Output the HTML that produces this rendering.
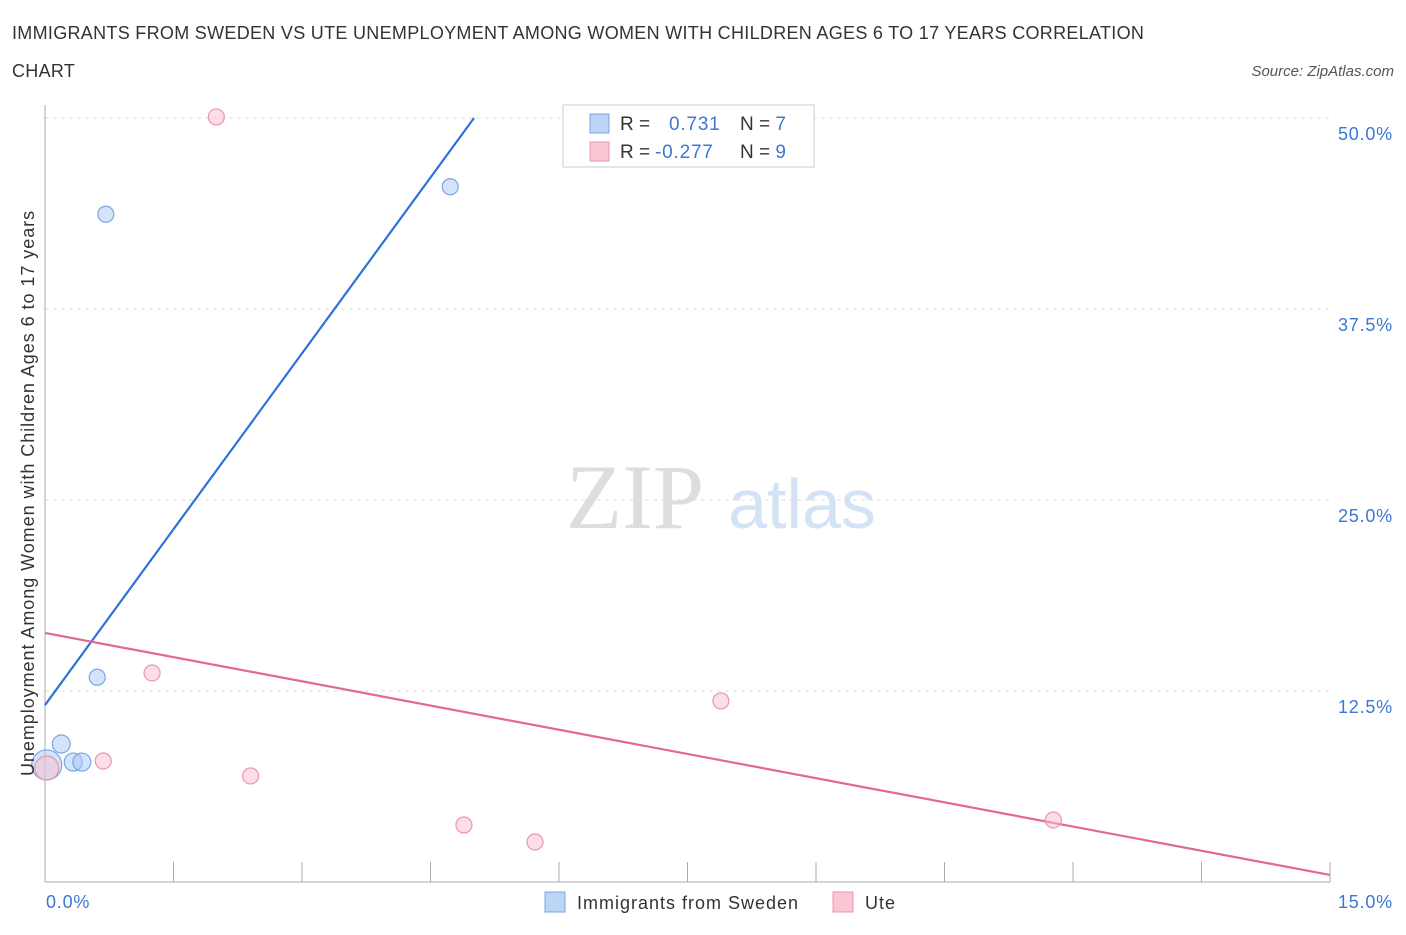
<!DOCTYPE html>
<html><head><meta charset="utf-8"><style>
body{margin:0;background:#fff;font-family:"Liberation Sans",sans-serif}
</style></head><body>
<svg width="1406" height="930" xmlns="http://www.w3.org/2000/svg">
<text x="12" y="39" font-size="18" letter-spacing="0.3" fill="#333">IMMIGRANTS FROM SWEDEN VS UTE UNEMPLOYMENT AMONG WOMEN WITH CHILDREN AGES 6 TO 17 YEARS CORRELATION</text>
<text x="12" y="77" font-size="18" letter-spacing="0.3" fill="#333">CHART</text>
<text x="1394" y="76" font-size="15" fill="#555" font-style="italic" text-anchor="end">Source: ZipAtlas.com</text>
<text x="635" y="528" font-size="92" fill="#ddd" font-family="Liberation Serif" text-anchor="middle">ZIP</text>
<text x="802" y="528" font-size="70" fill="#d4e2f5" text-anchor="middle">atlas</text>
<g id="grid"></g><g id="axes"></g><g id="lines"></g><g id="pts"></g>
<text transform="translate(34,493) rotate(-90)" font-size="18" letter-spacing="0.95" fill="#333" text-anchor="middle">Unemployment Among Women with Children Ages 6 to 17 years</text>
<text x="46" y="908" font-size="18" letter-spacing="0.8" fill="#3a78d6">0.0%</text>
<text x="1393" y="908" font-size="18" letter-spacing="0.8" fill="#3a78d6" text-anchor="end">15.0%</text>
<g>
<rect x="563" y="105" width="251" height="62" fill="#fff" stroke="#ccc"/>
<rect x="590" y="114" width="19" height="19" fill="#bcd4f6" stroke="#7aa6e6"/>
<rect x="590" y="142" width="19" height="19" fill="#f9c6d4" stroke="#eb94ad"/>
<text x="620" y="130" font-size="19" fill="#333">R = <tspan fill="#3a78d6" x="669" letter-spacing="0.8">0.731</tspan><tspan x="740" fill="#333">N = </tspan><tspan fill="#3a78d6">7</tspan></text>
<text x="620" y="158" font-size="19" fill="#333">R = <tspan fill="#3a78d6" x="655" letter-spacing="0.8">-0.277</tspan><tspan x="740" fill="#333">N = </tspan><tspan fill="#3a78d6">9</tspan></text>
</g>
<g>
<rect x="545" y="892" width="20" height="20" fill="#bcd4f6" stroke="#7aa6e6"/>
<text x="577" y="909" font-size="18" letter-spacing="1" fill="#333">Immigrants from Sweden</text>
<rect x="833" y="892" width="20" height="20" fill="#f9c6d4" stroke="#eb94ad"/>
<text x="865" y="909" font-size="18" letter-spacing="1" fill="#333">Ute</text>
</g>
</svg>
<script>
const yTicks=[12.5,25,37.5,50];
const yTickLabels=["12.5%","25.0%","37.5%","50.0%"];
const blueX=[0.02,0.19,0.33,0.43,0.61,0.71,4.73];
const blueY=[7.66,9.03,7.85,7.85,13.4,43.7,45.5];
const blueR=[15,9,9,9,8,8,8];
const pinkX=[0.02,0.68,1.25,2.0,2.40,4.89,5.72,7.89,11.77];
const pinkY=[7.46,7.92,13.68,50.07,6.94,3.73,2.62,11.85,4.06];
const pinkR=[12,8,8,8,8,8,8,8,8];
const blueTrend=[[0,11.58],[5.008,50]];
const pinkTrend=[[0,16.3],[15,0.46]];
const NS="http://www.w3.org/2000/svg";
const X=v=>45+v/15*1285, Y=v=>882-v/12.5*191;
function mk(p,t,a){const e=document.createElementNS(NS,t);for(const k in a)e.setAttribute(k,a[k]);document.getElementById(p).appendChild(e);return e;}
yTicks.forEach((t,i)=>{
 const g=mk('grid','line',{x1:45,x2:1330,y1:Y(t),y2:Y(t),stroke:'#ddd','stroke-dasharray':'4,4'});
 
 
 const l=mk('grid','text',{x:1393,y:Y(t)+22,'font-size':18,'letter-spacing':0.8,fill:'#3a78d6','text-anchor':'end'});
 l.textContent=yTickLabels[i];
 
 
});
const ax=mk('axes','line',{x1:45,x2:1330,y1:882,y2:882,stroke:'#aaa'});


const ay=mk('axes','line',{x1:45,x2:45,y1:105,y2:882,stroke:'#aaa'});


for(let i=1;i<=10;i++){const t=mk('axes','line',{x1:X(i*1.5),x2:X(i*1.5),y1:862,y2:882,stroke:'#aaa'});
 
 }
[[blueTrend,'#2f72d8','blue-trend-line'],[pinkTrend,'#e4679a','pink-trend-line']].forEach(([tr,c,n])=>{
 const l=mk('lines','line',{x1:X(tr[0][0]),y1:Y(tr[0][1]),x2:X(tr[1][0]),y2:Y(tr[1][1]),stroke:c,'stroke-width':2.2});
 
 
});
blueX.forEach((x,i)=>{const c=mk('pts','circle',{cx:X(x),cy:Y(blueY[i]),r:blueR[i],fill:'rgba(170,200,245,0.5)',stroke:'#7aa6e6','stroke-width':1.2});
 
 });
pinkX.forEach((x,i)=>{const c=mk('pts','circle',{cx:X(x),cy:Y(pinkY[i]),r:pinkR[i],fill:'rgba(248,190,208,0.5)',stroke:'#eb94ad','stroke-width':1.2});
 
 });
</script>
</body></html>
